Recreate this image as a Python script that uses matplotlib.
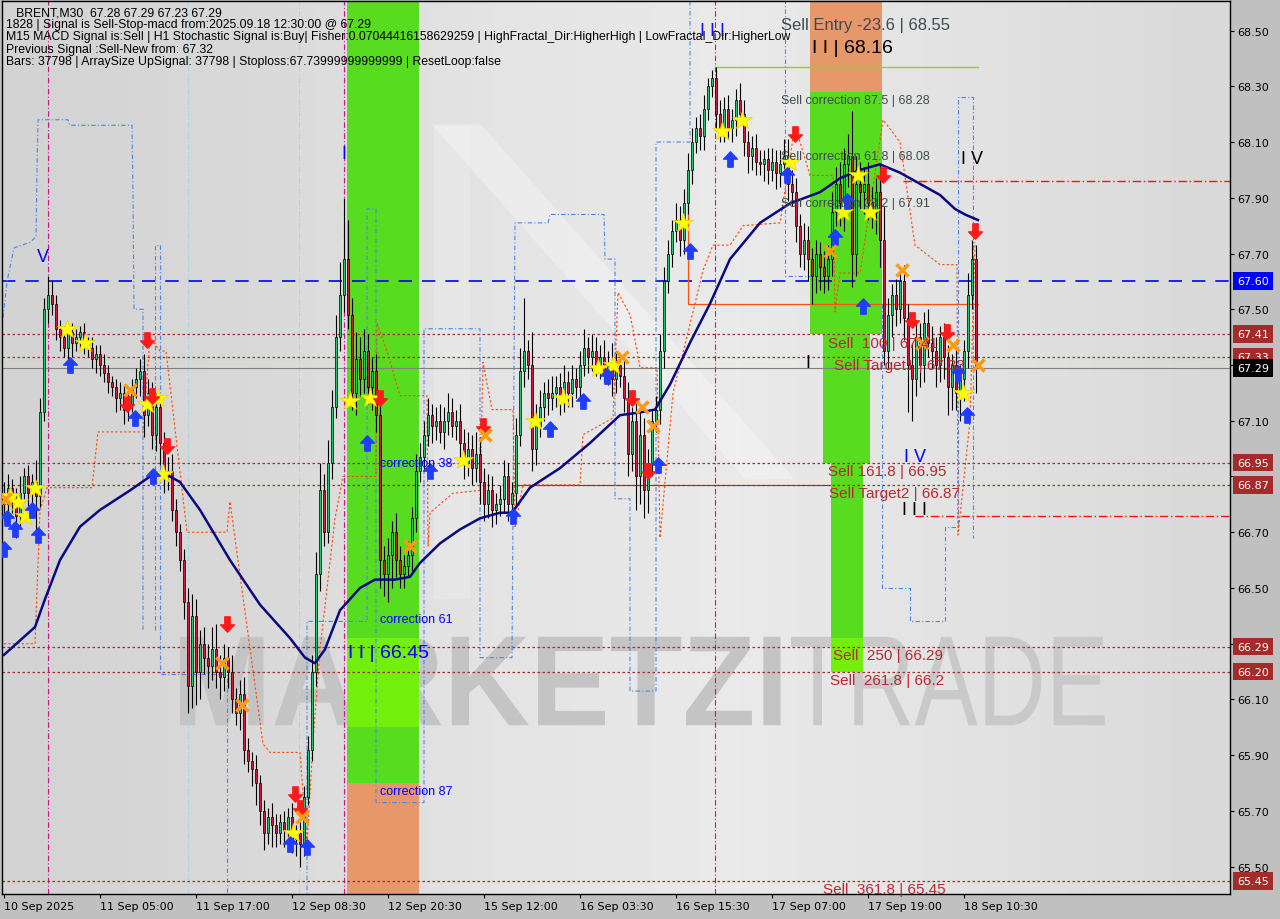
import numpy as np
import matplotlib
matplotlib.use("Agg")
import matplotlib.pyplot as plt
from matplotlib.colors import LinearSegmentedColormap
from matplotlib.font_manager import FontProperties
from matplotlib.patches import PathPatch, Rectangle
from matplotlib.path import Path
from matplotlib.textpath import TextPath
from matplotlib.transforms import Affine2D, blended_transform_factory

W, H = 1280, 920

# --- candles (M30 bars, index 0 = 10 Sep) -------------------------------
FIRST_OPEN = 66.84
CLOSES = [
    66.80, 66.86, 66.82, 66.76, 66.84, 66.90, 66.84, 66.88, 66.83, 67.13,
    67.50, 67.55, 67.52, 67.43, 67.40, 67.36, 67.42, 67.38, 67.40, 67.42,
    67.38, 67.36, 67.32, 67.34, 67.30, 67.27, 67.24, 67.22, 67.18, 67.20,
    67.14, 67.16, 67.22, 67.25, 67.28, 67.12, 67.20, 67.05, 67.15, 67.02,
    66.90, 66.92, 66.78, 66.70, 66.60, 66.45, 66.15, 66.40, 66.20, 66.30,
    66.25, 66.22, 66.28, 66.20, 66.18, 66.25, 66.20, 66.10, 66.05, 66.12,
    65.92, 65.88, 65.85, 65.80, 65.70, 65.62, 65.68, 65.65, 65.62, 65.66,
    65.63, 65.68, 65.60, 65.62, 65.58, 65.75, 65.92, 66.20, 66.55, 66.85,
    66.70, 66.95, 67.15, 67.40, 67.55, 67.68, 67.48, 67.20, 67.32, 67.25,
    67.35, 67.22, 67.28, 67.12, 66.60, 66.55, 66.62, 66.70, 66.60, 66.55,
    66.58, 66.62, 66.75, 66.92, 66.97, 67.05, 67.12, 67.08, 67.10, 67.06,
    67.10, 67.13, 67.08, 67.10, 67.02, 66.95, 67.00, 66.93, 66.98, 66.88,
    66.80, 66.85, 66.78, 66.80, 66.82, 66.90, 66.80, 66.84, 67.05, 67.28,
    67.35, 67.30, 67.00, 67.08, 67.15, 67.20, 67.18, 67.20, 67.22, 67.17,
    67.24, 67.20, 67.25, 67.22, 67.30, 67.36, 67.33, 67.35, 67.30, 67.33,
    67.28, 67.30, 67.25, 67.30, 67.26, 67.18, 66.98, 67.10, 66.90, 67.05,
    66.85, 66.95, 67.10, 67.14, 67.35, 67.60, 67.70, 67.78, 67.82, 67.75,
    67.88, 68.00, 68.10, 68.15, 68.12, 68.22, 68.30, 68.33, 68.20, 68.15,
    68.22, 68.15, 68.18, 68.25, 68.20, 68.10, 68.05, 68.08, 68.03, 68.02,
    68.04, 68.00, 68.03, 67.99, 68.02, 68.05, 67.95, 67.92, 67.80, 67.70,
    67.75, 67.68, 67.62, 67.70, 67.65, 67.62, 67.68, 67.85, 67.95, 67.88,
    68.02, 68.05, 67.70, 67.95, 67.92, 67.95, 67.88, 67.85, 67.92, 67.75,
    67.35, 67.48, 67.55, 67.50, 67.60, 67.47, 67.30, 67.25, 67.40, 67.30,
    67.45, 67.38, 67.35, 67.30, 67.40, 67.33, 67.22, 67.30, 67.20, 67.25,
    67.35, 67.55, 67.68, 67.29,
]
# wick lengths beyond the body, in cents
WICK_UP = [
    4, 5, 3, 4, 6, 3, 4, 3, 8, 5, 4, 7, 5, 3, 3, 4, 2, 3, 3, 2,
    3, 2, 4, 3, 3, 4, 3, 2, 3, 4, 3, 5, 3, 4, 4, 6, 5, 4, 5, 3,
    4, 5, 6, 4, 3, 4, 5, 8, 6, 5, 6, 5, 8, 9, 6, 5, 4, 6, 4, 5,
    6, 4, 3, 5, 3, 4, 3, 5, 4, 3, 4, 3, 5, 3, 4, 4, 5, 6, 8, 10,
    6, 8, 6, 8, 12, 22, 14, 6, 10, 8, 8, 6, 5, 6, 8, 5, 6, 4, 7, 5,
    4, 5, 4, 6, 5, 5, 6, 4, 5, 6, 5, 7, 5, 4, 6, 5, 6, 5, 8, 6,
    5, 6, 5, 4, 5, 6, 5, 4, 6, 8, 19, 4, 12, 8, 6, 4, 5, 6, 4, 5,
    6, 4, 5, 4, 5, 7, 4, 6, 5, 4, 6, 5, 8, 5, 4, 6, 6, 5, 8, 10,
    6, 5, 4, 5, 6, 5, 5, 4, 6, 5, 5, 6, 5, 4, 5, 5, 3, 3, 4, 5,
    4, 5, 4, 4, 6, 5, 4, 4, 5, 4, 3, 4, 5, 4, 5, 6, 6, 5, 5, 4,
    6, 5, 4, 5, 4, 6, 5, 7, 6, 8, 6, 8, 16, 10, 8, 6, 8, 6, 5, 10,
    12, 6, 4, 6, 5, 6, 5, 8, 6, 5, 4, 5, 6, 5, 4, 5, 4, 4, 6, 5,
    4, 8, 7, 5,
]
WICK_DN = [
    6, 4, 5, 8, 4, 3, 5, 4, 15, 4, 3, 5, 4, 4, 5, 3, 4, 5, 3, 4,
    4, 3, 3, 5, 4, 3, 4, 3, 5, 4, 5, 4, 3, 4, 6, 8, 4, 5, 6, 8,
    6, 5, 4, 5, 4, 6, 10, 8, 12, 10, 6, 8, 5, 6, 8, 5, 6, 5, 4, 6,
    5, 4, 6, 8, 5, 6, 4, 8, 5, 4, 6, 4, 5, 6, 8, 4, 3, 4, 5, 6,
    5, 4, 6, 4, 5, 6, 5, 6, 8, 6, 5, 6, 8, 6, 10, 8, 10, 12, 6, 5,
    5, 4, 6, 5, 4, 5, 4, 6, 5, 4, 6, 5, 4, 5, 6, 6, 5, 6, 5, 8,
    6, 5, 6, 5, 4, 5, 6, 4, 5, 4, 6, 5, 8, 6, 4, 5, 6, 4, 5, 5,
    4, 5, 5, 4, 5, 4, 6, 5, 4, 5, 4, 5, 6, 5, 4, 5, 8, 6, 12, 10,
    10, 8, 5, 4, 5, 6, 4, 5, 4, 6, 5, 4, 5, 4, 5, 5, 4, 4, 6, 5,
    5, 4, 5, 6, 4, 5, 6, 5, 5, 4, 6, 5, 4, 6, 5, 4, 6, 5, 6, 5,
    6, 8, 10, 6, 8, 6, 5, 6, 5, 8, 10, 8, 12, 8, 6, 8, 6, 6, 8, 10,
    5, 6, 8, 6, 5, 8, 17, 15, 6, 8, 6, 5, 6, 8, 6, 8, 10, 8, 6, 10,
    8, 6, 5, 9,
]

X_TICKS = [0, 24, 48, 72, 96, 120, 144, 168, 192, 216, 240]
X_LABELS = ["10 Sep 2025", "11 Sep 05:00", "11 Sep 17:00", "12 Sep 08:30",
            "12 Sep 20:30", "15 Sep 12:00", "16 Sep 03:30", "16 Sep 15:30",
            "17 Sep 07:00", "17 Sep 19:00", "18 Sep 10:30"]
Y_TICKS = [68.5, 68.3, 68.1, 67.9, 67.7, 67.5, 67.3, 67.1, 66.9, 66.7,
           66.5, 66.3, 66.1, 65.9, 65.7, 65.5]
HIDDEN_TICKS = [67.3, 66.9, 66.3]   # covered by the price tags

# moving average (bar, price)
MA_LINE = [(0, 66.26), (7.75, 66.36), (10.25, 66.46), (14, 66.60), (19, 66.72),
           (24, 66.78), (31.5, 66.85), (36.5, 66.90), (40.25, 66.91), (44, 66.88),
           (49, 66.78), (56.5, 66.60), (64, 66.44), (71.5, 66.32), (75.25, 66.25),
           (77.75, 66.23), (80.25, 66.28), (84, 66.42), (89, 66.50), (92.75, 66.53),
           (97.75, 66.53), (101.5, 66.54), (104, 66.59), (109, 66.66), (114, 66.71),
           (119, 66.75), (124, 66.77), (127, 66.77), (131.5, 66.86), (139, 66.93),
           (146.5, 67.02), (154, 67.12), (159, 67.13), (162.75, 67.14), (166.5, 67.23),
           (171.5, 67.38), (176.5, 67.52), (181.5, 67.68), (189, 67.81), (196.5, 67.88),
           (204, 67.92), (209, 67.97), (214, 68.00), (219, 68.02), (224, 67.99),
           (229, 67.95), (234, 67.91), (237.75, 67.86), (240.25, 67.84), (243.5, 67.82)]

# trailing stop (orange dashed)
TRAIL = [(0, 66.30), (7.75, 66.30), (9, 66.78), (10.75, 66.86), (22, 66.86),
         (23.5, 67.06), (34.75, 67.06), (36.5, 67.40), (39, 67.35), (40.5, 67.35),
         (45.75, 66.70), (55.75, 66.70), (56.5, 66.81), (64.75, 65.94), (66.5, 65.91),
         (74, 65.91), (75.75, 65.58), (77.25, 65.95), (79, 66.28), (82.75, 66.75),
         (84.75, 66.90), (93, 66.90), (93.25, 67.45), (95.75, 67.35), (99, 67.19),
         (105.75, 67.19), (106, 66.65), (106.5, 66.77), (112.25, 66.84), (119, 66.85),
         (119.75, 67.31), (122, 67.14), (127.25, 67.14), (127.75, 66.72), (129.75, 66.87),
         (144, 66.87), (144.75, 67.05), (152.25, 67.11), (153.5, 67.56), (156.5, 67.48),
         (157.75, 67.39), (159, 67.29), (163.25, 67.29), (164, 66.68), (167.25, 67.20),
         (172.25, 67.49), (174.75, 67.64), (177.25, 67.73), (181.5, 67.73), (184.75, 67.80),
         (194, 67.81), (197.75, 68.16), (199, 68.10), (201.5, 67.98), (207.25, 67.98),
         (207.75, 67.49), (209, 67.63), (214, 67.63), (219.75, 68.18), (224, 68.10),
         (227.75, 67.73), (234, 67.66), (238.25, 67.66), (238.5, 66.69), (241.5, 67.10),
         (242.75, 67.74)]

# fractal channel (blue dashed), several pieces
CHANNEL = [
    [(-0.25, 67.47), (0.75, 67.60), (2.5, 67.72), (6.5, 67.74), (8, 67.76), (8.25, 68.00),
     (8.5, 68.18), (16, 68.18), (16.5, 68.16), (32, 68.16), (32.25, 67.91), (32.5, 67.50),
     (34.75, 67.50), (34.75, 66.35)],
    [(37.75, 66.35), (37.75, 67.73), (39, 67.73), (39, 66.19), (55.75, 66.19), (55.75, 65.30)],
    [(75.75, 65.30), (75.75, 66.38), (90.75, 66.38), (90.75, 67.86), (93, 67.86), (93, 65.73),
     (105, 65.73), (105, 67.43), (119, 67.43), (119, 66.25), (127, 66.25), (127.75, 67.81),
     (136, 67.81), (136.5, 67.84), (150, 67.84), (150.25, 67.68), (152.75, 67.68),
     (152.75, 66.82), (156.5, 66.82), (156.5, 66.13), (163, 66.13), (163, 68.10),
     (171.5, 68.10), (171.5, 68.70)],
    [(195.25, 68.70), (195.25, 67.62), (202.25, 67.62)],
    [(219.5, 67.52), (219.5, 66.50), (226.5, 66.50), (226.5, 66.38), (235.25, 66.38),
     (235.25, 66.72), (238.5, 66.72), (238.5, 68.26), (242.25, 68.26), (242.25, 66.68)],
]

STARS = [(1.5, 66.83), (3.5, 66.81), (5.25, 66.76), (7.75, 66.86), (15.75, 67.43),
         (20.25, 67.38), (35.75, 67.16), (38.5, 67.18), (39.75, 66.91), (72.25, 65.62),
         (86.5, 67.17), (91.5, 67.18), (114.75, 66.96), (132.75, 67.10), (139.75, 67.18),
         (148.5, 67.29), (152.25, 67.30), (169.75, 67.81), (179.5, 68.14), (184.5, 68.18),
         (196.5, 68.03), (209.75, 67.85), (213.5, 67.98), (216.5, 67.85), (239.75, 67.20)]
BUY_ARROWS = [(0.75, 66.75), (2.75, 66.71), (7, 66.78), (8.5, 66.69), (0, 66.64),
              (16.5, 67.30), (32.75, 67.11), (37.25, 66.90), (71.5, 65.58), (75.75, 65.57),
              (90.75, 67.02), (106.5, 66.92), (127.25, 66.76), (136.5, 67.07), (144.75, 67.17),
              (150.75, 67.26), (163.5, 66.94), (171.5, 67.71), (181.5, 68.04), (195.75, 67.98),
              (207.75, 67.76), (210.75, 67.89), (214.75, 67.51), (238.5, 67.27), (240.75, 67.12)]
SELL_ARROWS = [(35.75, 67.39), (37, 67.19), (30.75, 67.16), (40.75, 67.01), (55.75, 66.37),
               (72.75, 65.76), (74, 65.71), (94, 67.18), (119.75, 67.08), (157, 67.18),
               (161, 66.92), (197.75, 68.13), (219.75, 67.98), (227, 67.46), (235.75, 67.42),
               (242.75, 67.78)]
CROSSES = [(31.5, 67.21), (54.5, 66.23), (59.5, 66.08), (74.5, 65.68), (0.25, 66.82),
           (101.5, 66.65), (120.25, 67.05), (154.5, 67.33), (159.5, 67.15), (162.25, 67.08),
           (206.5, 67.71), (224.5, 67.64), (229.5, 67.38), (237.25, 67.37), (243.5, 67.30)]

# fib zones (bar from, bar to, price low, price high, kind)
ZONES = [(85.75, 103.75, 65.80, 68.70, "green"), (85.75, 103.75, 65.30, 65.80, "orange"),
         (85.75, 103.75, 66.00, 66.32, "light"),
         (201.5, 219.5, 68.28, 68.70, "orange"), (201.5, 219.5, 67.41, 68.28, "green"),
         (204.75, 216.5, 66.95, 67.41, "green"), (206.75, 214.75, 66.20, 66.95, "green"),
         (206.75, 214.75, 66.20, 66.32, "light")]
ZONE_COLORS = {"green": "#58dc20", "orange": "#e6986a", "light": "#72f00c"}

LEVELS_DOTTED = [67.41, 67.33, 66.95, 66.87, 66.29, 66.20, 65.45]
LEVEL_BLUE = 67.60
LEVEL_LAST = 67.29
TAGS = [(67.60, "#0000ff"), (67.41, "#a52a2a"), (67.33, "#a52a2a"), (67.29, "#000000"),
        (66.95, "#a52a2a"), (66.87, "#a52a2a"), (66.29, "#a52a2a"), (66.20, "#a52a2a"),
        (65.45, "#a52a2a")]

SELL_LABELS = [("Sell  100 | 67.41", 206, 67.38), ("Sell Target1 | 67.33", 207.5, 67.30),
               ("Sell 161.8 | 66.95", 206, 66.92), ("Sell Target2 | 66.87", 206.25, 66.84),
               ("Sell  250 | 66.29", 207.25, 66.26), ("Sell  261.8 | 66.2", 206.5, 66.17),
               ("Sell  361.8 | 65.45", 204.75, 65.42)]
CORR_LABELS = [("Sell correction 87.5 | 68.28", 194.25, 68.25),
               ("Sell correction 61.8 | 68.08", 194.25, 68.05),
               ("Sell correction 38.2 | 67.91", 194.25, 67.88)]
BUY_CORR_LABELS = [("correction 38", 94, 66.95), ("correction 61", 94, 66.39),
                   ("correction 87", 94, 65.77)]
WAVE_LABELS = [("V", 9.75, 67.69, "#0000ff"), ("I", 85, 68.06, "#0000ff"),
               ("I I I", 177, 68.50, "#1010ff"), ("I V", 242, 68.04, "#000000"),
               ("I", 201, 67.31, "#000000"), ("I V", 227.75, 66.97, "#0000ff"),
               ("I I I", 227.75, 66.78, "#000000")]

INFO_LINES = [
    "   BRENT,M30  67.28 67.29 67.23 67.29",
    "1828 | Signal is Sell-Stop-macd from:2025.09.18 12:30:00 @ 67.29",
    "M15 MACD Signal is:Sell | H1 Stochastic Signal is:Buy| Fisher:0.07044416158629259 | "
    "HighFractal_Dir:HigherHigh | LowFractal_Dir:HigherLow",
    "Previous Signal :Sell-New from: 67.32",
    "Bars: 37798 | ArraySize UpSignal: 37798 | Stoploss:67.73999999999999 | ResetLoop:false",
]

LABEL_FONT = "Liberation Sans"


def stamp(ax, text, box, weight, color):
    """Fit a text outline into an axes-fraction box (watermark)."""
    tp = TextPath((0, 0), text, size=1, prop=FontProperties(family=LABEL_FONT, weight=weight))
    ext = tp.get_extents()
    x0, y0, x1, y1 = box
    tr = (Affine2D().translate(-ext.x0, -ext.y0)
          .scale((x1 - x0) / ext.width, (y1 - y0) / ext.height)
          .translate(x0, y0) + ax.transAxes)
    ax.add_patch(PathPatch(tp, transform=tr, facecolor=color, edgecolor="none", zorder=0.6))


def main():
    fig = plt.figure(figsize=(W / 100, H / 100), dpi=100, facecolor="#c0c0c0")
    ax = fig.add_axes([2 / W, 25 / H, 1228 / W, 893 / H])

    # background
    cmap = LinearSegmentedColormap.from_list(
        "bg", ["#d3d3d3", "#d9d9d9", "#e4e4e4", "#eaeaea", "#e2e2e2", "#d9d9d9"])
    ax.imshow(np.linspace(0, 1, 256)[None, :], extent=(0, 1, 0, 1), transform=ax.transAxes,
              cmap=cmap, aspect="auto", zorder=0)
    for poly, alpha in (([(0.350, 0.862), (0.390, 0.862), (0.645, 0.465), (0.605, 0.465)], 0.30),
                        ([(0.352, 0.86), (0.381, 0.86), (0.381, 0.33), (0.352, 0.33)], 0.18)):
        ax.add_patch(plt.Polygon(poly, closed=True, transform=ax.transAxes, facecolor="white",
                                 edgecolor="none", alpha=alpha, zorder=0.5))
    stamp(ax, "MARKETZI", (0.145, 0.189, 0.634, 0.288), "bold", "#c4c4c4")
    stamp(ax, "TRADE", (0.6425, 0.189, 0.898, 0.288), "normal", "#c9c9c9")

    # zones
    for x0, x1, lo, hi, kind in ZONES:
        ax.add_patch(Rectangle((x0, lo), x1 - x0, hi - lo, facecolor=ZONE_COLORS[kind],
                               edgecolor="none", zorder=1))

    # vertical separators
    for xb in (11, 85, 177.75):
        ax.axvline(xb, color="#c71585", lw=0.8, ls=(0, (5, 2, 1, 2)), zorder=1.5)
    for xb in (46, 73.75):
        ax.axvline(xb, color="#a8d8e0", lw=0.8, ls=(0, (5, 2, 1, 2)), zorder=1.5)

    # price levels
    for lvl in LEVELS_DOTTED:
        ax.axhline(lvl, color="#a52a2a", lw=0.9, ls=(0, (2, 2)), zorder=2)
    ax.axhline(LEVEL_BLUE, color="#0000ff", lw=1.2, ls=(0, (8, 6)), zorder=2)
    ax.axhline(LEVEL_LAST, color="#808080", lw=0.8, zorder=2)
    ax.plot([224.75, 310], [67.96, 67.96], color="#ff1010", lw=1.0, ls=(0, (6, 2, 1, 2)), zorder=2)
    ax.plot([227.75, 310], [66.76, 66.76], color="#ff1010", lw=1.0, ls=(0, (6, 2, 1, 2)), zorder=2)
    ax.plot([177.75, 243.5], [68.37, 68.37], color="#7fdc1a", lw=1.0, zorder=2)
    ax.plot([171, 171, 243.5], [67.92, 67.52, 67.52], color="#ff5010", lw=0.9, zorder=2)
    ax.plot([127.75, 206.5], [66.87, 66.87], color="#a52a2a", lw=0.8, zorder=2)

    # overlays
    for piece in CHANNEL:
        xs, ys = zip(*piece)
        ax.plot(xs, ys, color="#4a86e8", lw=0.8, ls=(0, (4, 2, 1, 2)), zorder=2.5)
    xs, ys = zip(*TRAIL)
    ax.plot(xs, ys, color="#ff4500", lw=0.8, ls=(0, (2, 2)), zorder=2.5)

    # candles
    opens = [FIRST_OPEN] + CLOSES[:-1]
    idx = np.arange(len(CLOSES))
    o = np.array(opens)
    c = np.array(CLOSES)
    top = np.maximum(o, c)
    bot = np.minimum(o, c)
    hi = top + np.array(WICK_UP) / 100
    lo = bot - np.array(WICK_DN) / 100
    ax.vlines(idx, lo, hi, color="black", lw=0.8, zorder=3)
    colors = np.where(c >= o, "#2ec06c", "#c81e3c")
    ax.bar(idx, np.maximum(top - bot, 0.004), bottom=bot, width=0.72, color=colors,
           edgecolor="black", linewidth=0.5, zorder=3.2)

    xs, ys = zip(*MA_LINE)
    ax.plot(xs, ys, color="#0a0a80", lw=1.8, zorder=4)

    # signal markers
    up = Path([(0, 1), (-0.9, 0.05), (-0.35, 0.05), (-0.35, -1), (0.35, -1), (0.35, 0.05),
               (0.9, 0.05), (0, 1)], closed=True)
    down = Path([(x, -y) for x, y in up.vertices], closed=True)
    xs, ys = zip(*STARS)
    ax.plot(xs, ys, ls="none", marker="*", ms=15, color="#ffff00", mec="#f0d000", mew=0.5, zorder=6)
    xs, ys = zip(*BUY_ARROWS)
    ax.plot(xs, ys, ls="none", marker=up, ms=11, color="#1f3cff", mec="#1f3cff", zorder=6)
    xs, ys = zip(*SELL_ARROWS)
    ax.plot(xs, ys, ls="none", marker=down, ms=11, color="#ff1a1a", mec="#ff1a1a", zorder=6)
    xs, ys = zip(*CROSSES)
    ax.plot(xs, ys, ls="none", marker="x", ms=8, mew=2.5, color="#ff9a10", zorder=6)

    # texts
    for txt, xb, yp in SELL_LABELS:
        ax.text(xb, yp, txt, color="#b8292f", fontsize=11, family=LABEL_FONT,
                va="center", ha="left", zorder=7)
    for txt, xb, yp in CORR_LABELS:
        ax.text(xb, yp, txt, color="#3f4a4f", fontsize=9, family=LABEL_FONT,
                va="center", ha="left", zorder=7)
    for txt, xb, yp in BUY_CORR_LABELS:
        ax.text(xb, yp, txt, color="#0000ff", fontsize=9, family=LABEL_FONT,
                va="center", ha="left", zorder=7)
    ax.text(194.25, 68.52, "Sell Entry -23.6 | 68.55", color="#3f4a4f", fontsize=12,
            family=LABEL_FONT, va="center", ha="left", zorder=7)
    ax.text(202, 68.44, "I I | 68.16", color="black", fontsize=14, family=LABEL_FONT,
            va="center", ha="left", zorder=7)
    ax.text(86, 66.27, "I I | 66.45", color="#0000ff", fontsize=14, family=LABEL_FONT,
            va="center", ha="left", zorder=7)
    for txt, xb, yp, col in WAVE_LABELS:
        ax.text(xb, yp, txt, color=col, fontsize=13, family=LABEL_FONT,
                va="center", ha="center", zorder=7)

    for k, line in enumerate(INFO_LINES):
        fig.text(6 / W, 1 - (13 + 12.2 * k) / H, line, fontsize=8.8, family=LABEL_FONT,
                 va="center", ha="left", color="black")

    # axes
    ax.set_xlim(-0.5, 306.5)
    ax.set_ylim(65.402, 68.606)
    ax.yaxis.tick_right()
    ax.set_yticks(Y_TICKS)
    ax.set_yticklabels(["" if any(abs(v - h) < 1e-6 for h in HIDDEN_TICKS) else f"{v:.2f}"
                        for v in Y_TICKS])
    ax.set_xticks(X_TICKS)
    ax.set_xticklabels(X_LABELS, ha="left")
    ax.tick_params(axis="both", direction="out", length=3, width=0.8, labelsize=8,
                   pad=2, colors="black")
    for sp in ax.spines.values():
        sp.set_color("black")
        sp.set_linewidth(1.0)

    tr = blended_transform_factory(ax.transAxes, ax.transData)
    for val, col in TAGS:
        ax.text(1.0057, val, f"{val:.2f}", transform=tr, color="white", fontsize=8,
                va="center", ha="left", clip_on=False, zorder=20,
                bbox=dict(boxstyle="square,pad=0.35", fc=col, ec="none"))

    fig.savefig("out.png", dpi=100, facecolor=fig.get_facecolor())
    plt.close(fig)


if __name__ == "__main__":
    main()
